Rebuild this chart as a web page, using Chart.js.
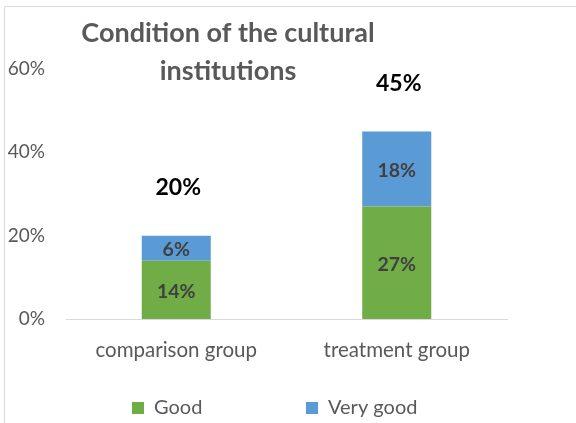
<!DOCTYPE html>
<html>
<head>
<meta charset="utf-8">
<script src="https://cdn.jsdelivr.net/npm/chart.js@4/dist/chart.umd.min.js"></script>
<style>
  html, body { margin: 0; padding: 0; background: #ffffff; }
  #wrap { position: relative; width: 576px; height: 423px; }
</style>
</head>
<body>
<div id="wrap"><canvas id="chart" width="576" height="423"></canvas></div>
<script>
// Chart content
const categories = ['comparison group', 'treatment group'];
const goodValues = [14, 27];
const veryGoodValues = [6, 18];
const totalLabels = ['20%', '45%'];
const yTicks = [0, 20, 40, 60];
const seriesNames = ['Good', 'Very good'];
const titleLines = ['Condition of the cultural', 'institutions'];

const GREEN = '#70AD47';
const BLUE = '#5B9BD5';
const TEXT = '#595959';
const FONT = 'Lato, "Open Sans", sans-serif';

// Frame, title, data labels, totals and legend drawn on the canvas
const decorations = {
  id: 'decorations',
  beforeDraw(chart) {
    const ctx = chart.ctx;
    ctx.save();
    ctx.fillStyle = '#ffffff';
    ctx.fillRect(0, 0, chart.width, chart.height);
    ctx.strokeStyle = '#D9D9D9';
    ctx.lineWidth = 1;
    ctx.beginPath();
    ctx.moveTo(4.5, chart.height);
    ctx.lineTo(4.5, 6.5);
    ctx.lineTo(chart.width, 6.5);
    ctx.stroke();
    ctx.restore();
  },
  afterDatasetsDraw(chart) {
    const ctx = chart.ctx;
    ctx.save();
    ctx.textAlign = 'center';
    ctx.textBaseline = 'middle';

    // segment labels
    ctx.font = 'bold 19.5px ' + FONT;
    ctx.fillStyle = '#404040';
    chart.data.datasets.forEach((ds, di) => {
      const meta = chart.getDatasetMeta(di);
      meta.data.forEach((bar, i) => {
        const mid = (bar.y + bar.base) / 2;
        ctx.fillText(ds.data[i] + '%', bar.x, mid + 2);
      });
    });

    // totals above each stack
    ctx.font = 'bold 23px ' + FONT;
    ctx.fillStyle = '#000000';
    const top = chart.getDatasetMeta(1);
    top.data.forEach((bar, i) => {
      ctx.fillText(totalLabels[i], bar.x + 2, bar.y - 48);
    });

    // title
    ctx.font = 'bold 27px ' + FONT;
    ctx.fillStyle = TEXT;
    ctx.fillText(titleLines[0], 228, 33);
    ctx.fillText(titleLines[1], 228, 71);

    // legend
    ctx.font = '20px ' + FONT;
    ctx.textAlign = 'left';
    const legendX = [132, 306];
    chart.data.datasets.forEach((ds, di) => {
      ctx.fillStyle = ds.backgroundColor;
      ctx.fillRect(legendX[di], 402, 12, 12);
      ctx.fillStyle = TEXT;
      ctx.fillText(ds.label, legendX[di] + 22, 408);
    });
    ctx.restore();
  }
};

new Chart(document.getElementById('chart'), {
  type: 'bar',
  data: {
    labels: categories,
    datasets: [
      { label: seriesNames[0], data: goodValues, backgroundColor: GREEN },
      { label: seriesNames[1], data: veryGoodValues, backgroundColor: BLUE }
    ]
  },
  options: {
    responsive: false,
    animation: false,
    devicePixelRatio: 1,
    layout: { padding: { top: 69, right: 69, bottom: 54, left: 0 } },
    datasets: { bar: { categoryPercentage: 1, barPercentage: 0.313 } },
    plugins: {
      legend: { display: false },
      title: { display: false },
      tooltip: { enabled: false }
    },
    scales: {
      x: {
        stacked: true,
        grid: { display: false, drawTicks: false },
        border: { display: true, color: '#D9D9D9', width: 1 },
        ticks: { color: TEXT, font: { family: FONT, size: 20.5 }, padding: 19, maxRotation: 0 },
        afterFit(scale) { scale.height = 50; }
      },
      y: {
        stacked: true,
        min: 0,
        max: 60,
        grid: { display: false, drawTicks: false },
        border: { display: false },
        afterBuildTicks(scale) { scale.ticks = yTicks.map(v => ({ value: v })); },
        ticks: {
          color: TEXT,
          font: { family: FONT, size: 19 },
          padding: 21,
          callback: v => v + '%'
        },
        afterFit(scale) { scale.width = 66; }
      }
    }
  },
  plugins: [decorations]
});
</script>
</body>
</html>
